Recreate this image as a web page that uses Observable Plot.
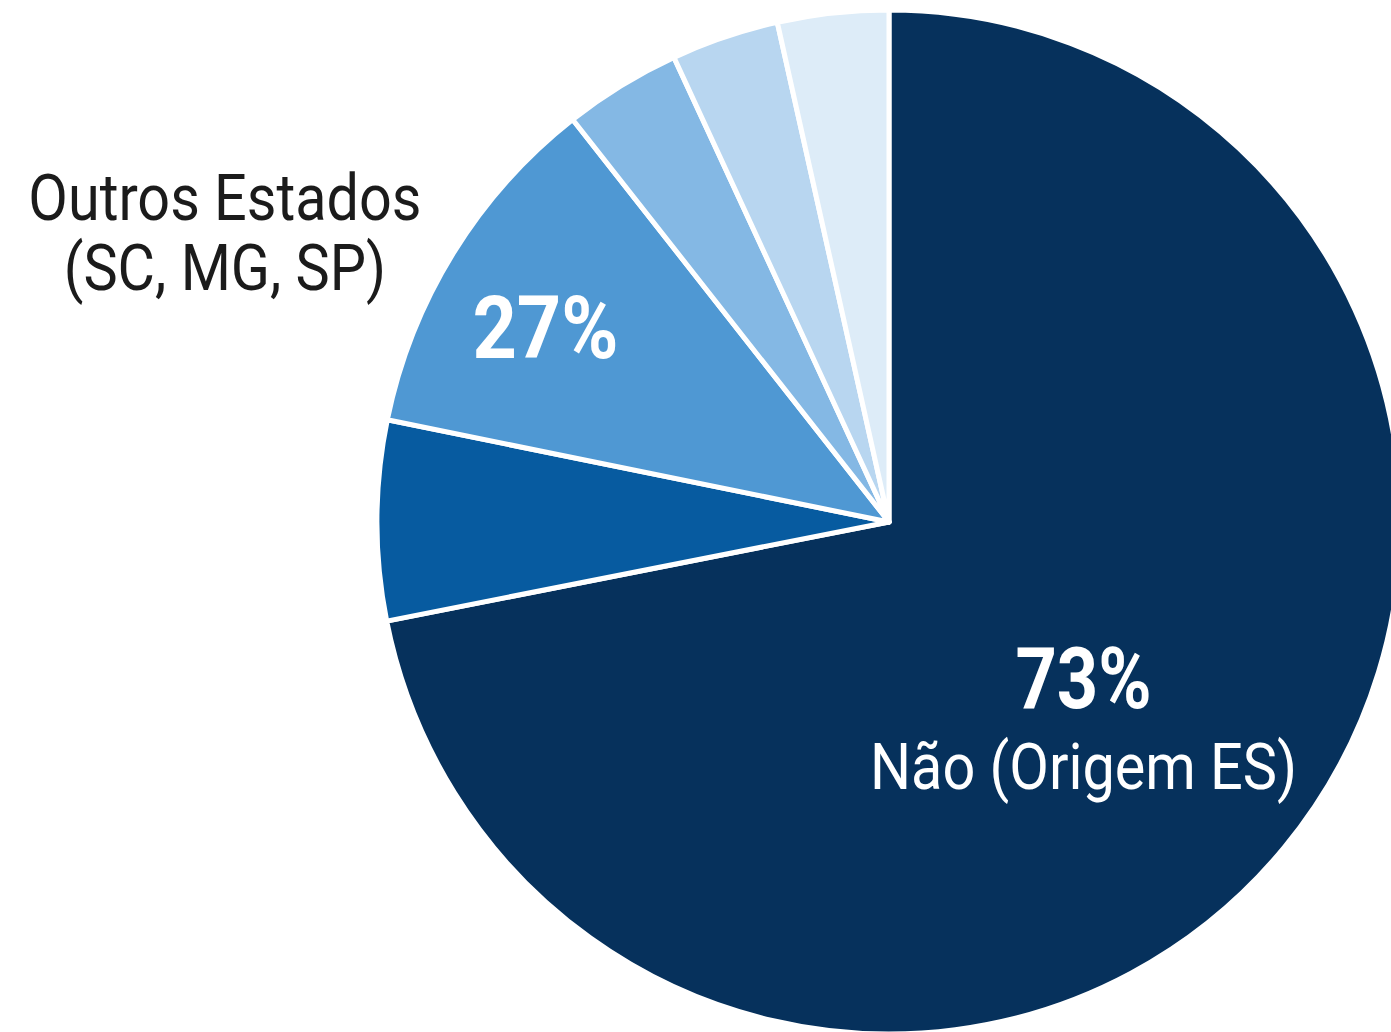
<!DOCTYPE html>
<html>
<head>
<meta charset="utf-8">
<script src="https://cdn.jsdelivr.net/npm/d3@7"></script>
<script src="https://cdn.jsdelivr.net/npm/@observablehq/plot@0.6"></script>
<style>
  html, body { margin: 0; padding: 0; background: #ffffff; }
  #chart svg { display: block; }
</style>
</head>
<body>
<div id="chart"></div>
<script>
// ---- Data ----
const categories = [
  "Não (Origem ES)",
  "Outros Estados – fatia 1",
  "Outros Estados – fatia 2",
  "Outros Estados – fatia 3",
  "Outros Estados – fatia 4",
  "Outros Estados – fatia 5"
];
const shares = [71.9, 6.3, 11.2, 3.7, 3.4, 3.5];
const sliceColors = ["#06315c", "#075ba0", "#4f98d3", "#84b8e4", "#b8d6f0", "#ddecf8"];

const percentLabels = ["73%", "27%"];
const groupNames = ["Não (Origem ES)", "Outros Estados\n(SC, MG, SP)"];

// ---- Tables built from the arrays ----
const slices = categories.map((category, i) => ({category, share: shares[i]}));

// Layout (unit-circle coordinates; pie centre = 0,0, radius = 1)
const W = 1391, H = 1032;
const CX = 889, CY = 522, R = 512;
const xDomain = [-CX / R, (W - CX) / R];
const yDomain = [-(H - CY) / R, CY / R];

const labelPos = {
  p73: {x: 0.379, y: -0.304},
  n73: {x: 0.379, y: -0.478},
  p27: {x: -0.672, y: 0.381},
  n27: {x: -1.298, y: 0.566}
};

function pieMark(index, scales) {
  const cx = scales.x(0), cy = scales.y(0);
  const r = scales.x(1) - scales.x(0);
  const color = scales.color ?? d3.scaleOrdinal(categories, sliceColors);
  const arcs = d3.pie().sort(null).value(d => d.share)(slices);
  const arc = d3.arc().innerRadius(0).outerRadius(r);
  const g = d3.create("svg:g").attr("transform", `translate(${cx},${cy})`);
  g.selectAll("path")
    .data(arcs)
    .join("path")
    .attr("d", arc)
    .attr("fill", d => color(d.data.category))
    .attr("stroke", "#ffffff")
    .attr("stroke-width", 5)
    .attr("stroke-linejoin", "round");
  return g.node();
}

const labels = [
  {text: percentLabels[0], ...labelPos.p73, size: 86, weight: "bold", fill: "#ffffff", squeeze: 0.84},
  {text: groupNames[0], ...labelPos.n73, size: 64, weight: "normal", fill: "#ffffff", squeeze: 0.9},
  {text: percentLabels[1], ...labelPos.p27, size: 88, weight: "bold", fill: "#ffffff", squeeze: 0.88},
  {text: groupNames[1], ...labelPos.n27, size: 65, weight: "normal", fill: "#1b1b1b", squeeze: 0.885}
];

const chart = Plot.plot({
  width: W,
  height: H,
  margin: 0,
  style: {background: "#ffffff", fontFamily: "Roboto"},
  x: {domain: xDomain, axis: null},
  y: {domain: yDomain, axis: null},
  color: {type: "ordinal", domain: categories, range: sliceColors},
  marks: [
    Plot.dot(slices, {x: () => 0, y: () => 0, fill: "category", r: 0}),
    pieMark,
    ...labels.map(l => Plot.text([l], {
      x: "x", y: "y", text: "text",
      fill: l.fill,
      fontSize: l.size,
      fontWeight: l.weight,
      fontFamily: "Roboto",
      lineHeight: 1.08,
      textAnchor: "middle",
      lineAnchor: "middle"
    }))
  ]
});

// condense the lettering horizontally, like the reference typeface
chart.querySelectorAll("text").forEach((t, i) => {
  const k = labels[i] ? labels[i].squeeze : 0.88;
  const tr = t.getAttribute("transform");
  if (tr) {
    t.setAttribute("transform", tr + ` scale(${k},1)`);
  } else {
    const x = +t.getAttribute("x") || 0, y = +t.getAttribute("y") || 0;
    t.removeAttribute("x"); t.removeAttribute("y");
    t.setAttribute("transform", `translate(${x},${y}) scale(${k},1)`);
  }
});

document.getElementById("chart").appendChild(chart);
</script>
</body>
</html>
